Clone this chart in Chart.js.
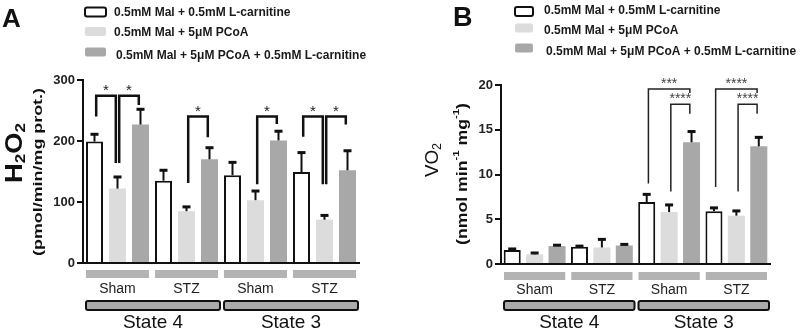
<!DOCTYPE html>
<html>
<head>
<meta charset="utf-8">
<script src="https://cdn.jsdelivr.net/npm/chart.js@4/dist/chart.umd.min.js"></script>
<style>
  html, body { margin: 0; padding: 0; background: #fff; }
  #wrap { position: relative; width: 800px; height: 334px; }
  .panel { position: absolute; top: 0; width: 400px; height: 334px; }
</style>
</head>
<body>
<div id="wrap">
  <div class="panel" style="left:0"><canvas id="chartA" width="400" height="334"></canvas></div>
  <div class="panel" style="left:400px"><canvas id="chartB" width="400" height="334"></canvas></div>
</div>
<script>
const groups = ['Sham', 'STZ', 'Sham', 'STZ'];
const states = ['State 4', 'State 3'];
const seriesNames = [
    '0.5mM Mal + 0.5mM L-carnitine',
    '0.5mM Mal + 5μM PCoA',
    '0.5mM Mal + 5μM PCoA + 0.5mM L-carnitine'
];

// panel A - H2O2 (pmol/min/mg prot.)
const h2o2MalCarn = [199, 135, 144, 149];
const h2o2MalCarnSem = [12, 17, 21, 32];
const h2o2PCoA = [122, 85, 103, 71];
const h2o2PCoASem = [19, 7, 15, 7];
const h2o2PCoACarn = [227, 170, 201, 152];
const h2o2PCoACarnSem = [25, 19, 15, 32];
const h2o2Ticks = [0, 100, 200, 300];

// panel B - VO2 (nmol min-1 mg-1)
const vo2MalCarn = [1.56, 1.93, 6.93, 5.9];
const vo2MalCarnSem = [0.12, 0.07, 0.85, 0.37];
const vo2PCoA = [1.08, 1.85, 5.8, 5.4];
const vo2PCoASem = [0.15, 0.9, 0.8, 0.53];
const vo2PCoACarn = [2.0, 2.07, 13.6, 13.15];
const vo2PCoACarnSem = [0.1, 0.12, 1.2, 1.0];
const vo2Ticks = [0, 5, 10, 15, 20];

// significance brackets: [group, from series, to series, top, left end, right end, text]
const h2o2Brackets = [
    [0, 0, 1, 274, 240, 164, '*'],
    [0, 1, 2, 274, 164, 259, '*'],
    [1, 1, 2, 240, 131, 206, '*'],
    [2, 1, 2, 240, 129, 228, '*'],
    [3, 0, 1, 240, 207, 129, '*'],
    [3, 1, 2, 240, 129, 227, '*']
];
const vo2Brackets = [
    [2, 0, 2, 19.55, 9.0, 19.1, '***'],
    [2, 1, 2, 17.85, 8.1, 16.8, '****'],
    [3, 0, 2, 19.55, 8.6, 19.1, '****'],
    [3, 1, 2, 17.85, 8.1, 16.8, '****']
];

const colors = ['#ffffff', '#dcdcdc', '#a8a8a8'];

function makeDatasets(values, sems) {
    return values.map((v, i) => ({
        label: seriesNames[i],
        data: v,
        sem: sems[i],
        backgroundColor: colors[i],
        borderColor: '#111',
        borderWidth: i === 0 ? 2 : 0
    }));
}

function drawRotated(ctx, parts, cx, cy, len) {
    ctx.save();
    let w = 0;
    parts.forEach(p => { ctx.font = p.font; w += ctx.measureText(p.t).width; });
    const s = len ? len / w : 1;
    ctx.translate(cx, cy);
    ctx.rotate(-Math.PI / 2);
    ctx.scale(s, 1);
    ctx.fillStyle = '#111';
    ctx.textBaseline = 'middle';
    ctx.textAlign = 'left';
    let x = -w / 2;
    parts.forEach(p => {
        ctx.font = p.font;
        ctx.fillText(p.t, x, p.dy || 0);
        x += ctx.measureText(p.t).width;
    });
    ctx.restore();
}

function makeExtras(cfg) {
    return {
        id: 'extras',
        afterDatasetsDraw(chart) {
            const ctx = chart.ctx;
            const y = chart.scales.y;
            // error bars
            chart.data.datasets.forEach((ds, i) => {
                chart.getDatasetMeta(i).data.forEach((bar, j) => {
                    const top = y.getPixelForValue(ds.data[j] + ds.sem[j]);
                    ctx.save();
                    ctx.strokeStyle = '#111';
                    ctx.fillStyle = '#111';
                    ctx.lineWidth = 2;
                    ctx.beginPath();
                    ctx.moveTo(bar.x, bar.y);
                    ctx.lineTo(bar.x, top);
                    ctx.stroke();
                    ctx.fillRect(bar.x - 4, top - 1.5, 8, 3);
                    ctx.restore();
                });
            });
            // brackets
            cfg.brackets.forEach(b => {
                const xa = chart.getDatasetMeta(b[1]).data[b[0]].x + 1.7;
                const xb = chart.getDatasetMeta(b[2]).data[b[0]].x - 1.7;
                const yt = y.getPixelForValue(b[3]);
                ctx.save();
                ctx.strokeStyle = cfg.bracketColor;
                ctx.lineWidth = cfg.bracketWidth;
                ctx.beginPath();
                ctx.moveTo(xa, y.getPixelForValue(b[4]));
                ctx.lineTo(xa, yt);
                ctx.lineTo(xb, yt);
                ctx.lineTo(xb, y.getPixelForValue(b[5]));
                ctx.stroke();
                ctx.fillStyle = cfg.starColor;
                ctx.font = cfg.starFont;
                ctx.textAlign = 'center';
                ctx.textBaseline = 'alphabetic';
                ctx.fillText(b[6], (xa + xb) / 2, yt + cfg.starDy);
                ctx.restore();
            });
        },
        afterDraw(chart) {
            const ctx = chart.ctx;
            const area = chart.chartArea;
            const x = chart.scales.x;
            const catW = (area.right - area.left) / groups.length;
            ctx.save();
            // panel letter
            ctx.fillStyle = '#111';
            ctx.font = cfg.letterFont;
            ctx.textAlign = 'left';
            ctx.textBaseline = 'alphabetic';
            ctx.fillText(cfg.letter, cfg.letterX, cfg.letterY);
            // legend
            chart.data.datasets.forEach((ds, i) => {
                const by = cfg.boxY[i];
                ctx.beginPath();
                ctx.roundRect(cfg.boxX, by - cfg.boxH / 2, cfg.boxW, cfg.boxH, 2);
                ctx.fillStyle = ds.backgroundColor;
                ctx.fill();
                if (ds.borderWidth) {
                    ctx.lineWidth = 2;
                    ctx.strokeStyle = '#111';
                    ctx.stroke();
                }
                ctx.fillStyle = '#1a1a1a';
                ctx.font = 'bold 12px Arial';
                ctx.textBaseline = 'middle';
                ctx.fillText(ds.label, cfg.textX[i], cfg.textY[i]);
            });
            // sub group bars under the axis
            groups.forEach((g, i) => {
                const c = x.getPixelForValue(i);
                ctx.fillStyle = '#b3b3b3';
                ctx.fillRect(c - catW / 2 + 3, area.bottom + cfg.subTop, catW - 6, 8);
            });
            // state boxes
            states.forEach((s, k) => {
                const l = x.getPixelForValue(k * 2) - catW / 2 + 3;
                const r = x.getPixelForValue(k * 2 + 1) + catW / 2 - 1;
                ctx.beginPath();
                ctx.roundRect(l, area.bottom + cfg.stateTop, r - l, 9, 2);
                ctx.fillStyle = '#ababab';
                ctx.fill();
                ctx.lineWidth = 2;
                ctx.strokeStyle = '#111';
                ctx.stroke();
                ctx.fillStyle = '#111';
                ctx.font = '19px Arial';
                ctx.textAlign = 'center';
                ctx.textBaseline = 'middle';
                ctx.fillText(s, (l + r) / 2, area.bottom + cfg.stateLabel);
            });
            ctx.restore();
            // axis titles
            cfg.titles.forEach(t => drawRotated(ctx, t.parts, t.x, t.y, t.len));
        }
    };
}

function makeChart(id, values, sems, ticks, cfg) {
    return new Chart(document.getElementById(id), {
        type: 'bar',
        data: {
            labels: groups,
            datasets: makeDatasets(values, sems)
        },
        options: {
            responsive: false,
            animation: false,
            layout: { padding: { top: cfg.padTop, right: cfg.padRight, bottom: 0, left: 0 } },
            datasets: { bar: { categoryPercentage: 1, barPercentage: cfg.barPct } },
            plugins: { legend: { display: false }, tooltip: { enabled: false } },
            scales: {
                x: {
                    grid: { display: true, drawOnChartArea: false, drawTicks: false },
                    border: { display: true, color: '#111', width: 2 },
                    ticks: { color: '#222', font: { family: 'Arial', size: 14 }, padding: 18 },
                    afterFit: s => { s.height = cfg.xHeight; }
                },
                y: {
                    min: ticks[0],
                    max: ticks[ticks.length - 1],
                    afterBuildTicks: s => { s.ticks = ticks.map(v => ({ value: v })); },
                    grid: { display: true, drawOnChartArea: false, drawTicks: true, tickLength: 6, color: '#111', lineWidth: 2 },
                    border: { display: true, color: '#111', width: 2 },
                    ticks: { color: '#222', font: { family: 'Arial', size: 13, weight: 'bold' }, padding: 2 },
                    afterFit: s => { s.width = cfg.yWidth; }
                }
            }
        },
        plugins: [makeExtras(cfg)]
    });
}

makeChart('chartA',
    [h2o2MalCarn, h2o2PCoA, h2o2PCoACarn],
    [h2o2MalCarnSem, h2o2PCoASem, h2o2PCoACarnSem],
    h2o2Ticks,
    {
        padTop: 80, padRight: 41, xHeight: 71, yWidth: 83, barPct: 0.74,
        letter: 'A', letterFont: 'bold 26px Arial', letterX: 2, letterY: 27,
        boxX: 85, boxW: 21, boxH: 9, boxY: [12, 31.5, 52],
        textX: [114, 114, 116], textY: [12.5, 33, 56],
        subTop: 7, stateTop: 38, stateLabel: 60,
        brackets: h2o2Brackets, bracketColor: '#111', bracketWidth: 2.5,
        starColor: '#222', starFont: '15px Arial', starDy: -1,
        titles: [
            { x: 15, y: 153, len: 60, parts: [
                { t: 'H', font: 'bold 24px Arial' },
                { t: '2', font: 'bold 15px Arial', dy: 6 },
                { t: 'O', font: 'bold 24px Arial' },
                { t: '2', font: 'bold 15px Arial', dy: 6 }
            ] },
            { x: 38.5, y: 172, len: 168, parts: [
                { t: '(pmol/min/mg prot.)', font: 'bold 13px Arial' }
            ] }
        ]
    });

makeChart('chartB',
    [vo2MalCarn, vo2PCoA, vo2PCoACarn],
    [vo2MalCarnSem, vo2PCoASem, vo2PCoACarnSem],
    vo2Ticks,
    {
        padTop: 85, padRight: 30, xHeight: 70, yWidth: 101, barPct: 0.76,
        letter: 'B', letterFont: 'bold 27px Arial', letterX: 53, letterY: 26,
        boxX: 115, boxW: 18, boxH: 9, boxY: [11.5, 28, 48],
        textX: [144, 144, 146], textY: [11, 31, 52],
        subTop: 8, stateTop: 37, stateLabel: 59,
        brackets: vo2Brackets, bracketColor: '#222', bracketWidth: 1.5,
        starColor: '#444', starFont: '14px Arial', starDy: -1,
        titles: [
            { x: 33, y: 160, len: 34, parts: [
                { t: 'VO', font: '18px Arial' },
                { t: '2', font: '12px Arial', dy: 5 }
            ] },
            { x: 63, y: 174, len: 142, parts: [
                { t: '(nmol min', font: 'bold 14px Arial' },
                { t: '-1', font: 'bold 9px Arial', dy: -6 },
                { t: ' mg', font: 'bold 14px Arial' },
                { t: '-1', font: 'bold 9px Arial', dy: -6 },
                { t: ')', font: 'bold 14px Arial' }
            ] }
        ]
    });
</script>
</body>
</html>
